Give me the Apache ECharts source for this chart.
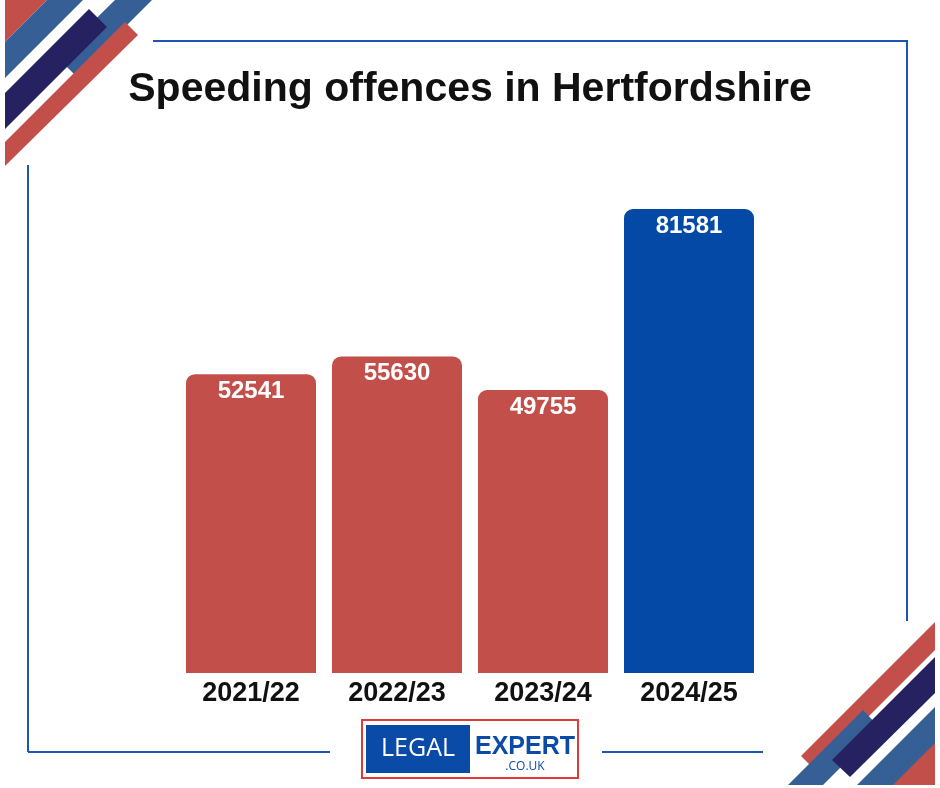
<!DOCTYPE html>
<html>
<head>
<meta charset="utf-8">
<script src="https://cdn.jsdelivr.net/npm/echarts@6/dist/echarts.min.js"></script>
<style>html,body{margin:0;padding:0;background:#fff}#c{width:940px;height:788px}</style>
</head>
<body>
<div id="c"></div>
<script>
const categories = ['2021/22', '2022/23', '2023/24', '2024/25'];
const offences = [52541, 55630, 49755, 81581];
const barColors = ['#c34f4a', '#c34f4a', '#c34f4a', '#0449a6'];
const titleText = 'Speeding offences in Hertfordshire';

const RED = '#c24f4a', STEEL = '#365f96', NAVY = '#262262', LINE = '#1c55b3';
const poly = (pts, fill) => ({ type: 'polygon', shape: { points: pts }, style: { fill: fill }, silent: true });
const seg = (x1, y1, x2, y2) => ({ type: 'line', shape: { x1, y1, x2, y2 }, style: { stroke: LINE, lineWidth: 2 }, silent: true });

const chart = echarts.init(document.getElementById('c'), null, { renderer: 'canvas' });
chart.setOption({
  backgroundColor: '#ffffff',
  animation: false,
  title: {
    text: titleText, left: 'center', top: 64,
    textStyle: { fontFamily: 'Liberation Sans', fontWeight: 'bold', fontSize: 41, color: '#111111' }
  },
  grid: { left: 178, right: 178, top: 209, bottom: 115 },
  xAxis: {
    type: 'category', data: categories,
    axisLine: { show: false }, axisTick: { show: false },
    axisLabel: { margin: 7, fontFamily: 'Liberation Sans', fontWeight: 'bold', fontSize: 27, color: '#111111' }
  },
  yAxis: {
    type: 'value', min: 0, max: Math.max(...offences), show: false,
    splitLine: { show: false }
  },
  series: [{
    type: 'bar',
    data: offences.map((v, i) => ({ value: v, itemStyle: { color: barColors[i] } })),
    barWidth: 130,
    itemStyle: { borderRadius: [9, 9, 0, 0] },
    label: {
      show: true, position: 'insideTop', distance: 5,
      fontFamily: 'Liberation Sans', fontWeight: 'bold', fontSize: 24, color: '#ffffff'
    }
  }],
  graphic: [
    // frame
    seg(153, 41, 908, 41), seg(907, 41, 907, 621),
    seg(28, 165, 28, 752), seg(28, 752, 330, 752), seg(602, 752, 763, 752),
    // top-left decoration
    poly([[5,0],[47,0],[5,42]], RED),
    poly([[47,0],[83,0],[5,78],[5,42]], STEEL),
    poly([[115,0],[152,0],[76,76],[57,57]], STEEL),
    poly([[89,9],[107,27],[5,129],[5,93]], NAVY),
    poly([[125,22],[138,35],[5,166],[5,142]], RED),
    // bottom-right decoration
    poly([[935,622],[935,650],[815,770],[801,756]], RED),
    poly([[863,710],[880,728],[823,785],[788,785]], STEEL),
    poly([[935,657],[935,693],[850,777],[832,760]], NAVY),
    poly([[935,707],[935,785],[857,785]], STEEL),
    poly([[935,743],[935,785],[893,785]], RED),
    // logo
    { type: 'rect', shape: { x: 362, y: 720, width: 216, height: 58 }, style: { fill: '#fff', stroke: '#e03a3a', lineWidth: 2 }, silent: true },
    { type: 'rect', shape: { x: 366, y: 725, width: 104, height: 48 }, style: { fill: '#0a4ba8' }, silent: true },
    { type: 'text', x: 418, y: 749, style: { text: 'LEGAL', fill: '#ffffff', font: '25px "Open Sans"', align: 'center', verticalAlign: 'middle' }, silent: true },
    { type: 'text', x: 525, y: 747, style: { text: 'EXPERT', fill: '#0a4ba8', font: 'bold 25px "Liberation Sans"', align: 'center', verticalAlign: 'middle' }, silent: true },
    { type: 'text', x: 525, y: 767, style: { text: '.CO.UK', fill: '#0a4ba8', font: '12px "Open Sans"', align: 'center', verticalAlign: 'middle' }, silent: true }
  ]
});
</script>
</body>
</html>
